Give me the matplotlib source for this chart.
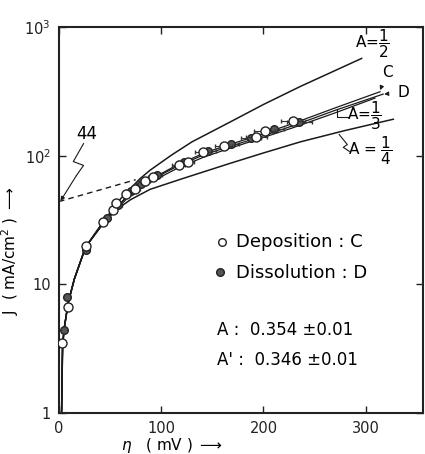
import matplotlib.pyplot as plt
import matplotlib.ticker as ticker

# valores (eta em mV, J em mA/cm2)
dep_eta = [3.2, 9.1, 26.4, 43, 53, 56, 66, 74, 84, 92, 117, 126, 141, 161, 193, 201, 229]
dep_J = [3.5, 6.7, 20, 30.5, 37.5, 43, 50, 55, 63, 68, 84, 89, 106, 118, 140, 156, 186]
dep_err = [0, 0, 3, 3, 3, 4, 4, 5, 5, 5, 6, 6, 8, 8, 10, 10, 12]

dis_eta = [4.9, 7.5, 26, 47, 58, 70, 80, 96, 122, 146, 168, 188, 210, 235]
dis_J = [4.4, 8.0, 18.5, 33, 41, 53, 60, 71, 89, 108, 124, 136, 160, 184]
dis_err = [0, 0, 3, 3, 4, 4, 5, 5, 6, 8, 8, 10, 10, 12]

# curvas ajustadas C e D
c_eta = [2.5, 3.5, 5, 9, 15, 26, 43, 53, 66, 84, 116, 141, 161, 193, 229, 270, 314]
c_J = [1.0, 3.3, 4.5, 7.2, 11, 19.5, 30, 37, 48, 62, 85, 104, 118, 142, 178, 235, 314]
d_eta = [2.5, 3.5, 5, 9, 15, 26, 43, 53, 66, 84, 116, 141, 161, 193, 229, 270, 317]
d_J = [1.0, 3.3, 4.5, 7.2, 11, 19.5, 30, 37, 47.5, 61, 83, 101, 114, 137, 171, 225, 301]

# curvas teoricas A = 1/2, 1/3, 1/4
a2_eta = [2.5, 3.5, 5, 9, 15, 26, 43, 60, 79, 89, 110, 130, 167, 200, 236, 296]
a2_J = [1.0, 3.3, 4.5, 7.2, 11, 19.5, 30.5, 46, 66, 77, 101, 128, 182, 250, 345, 570]
a3_eta = [2.5, 3.5, 5, 9, 15, 26, 43, 53, 66, 84, 116, 141, 161, 193, 229, 270, 309]
a3_J = [1.0, 3.3, 4.5, 7.2, 11, 19.5, 29.5, 36, 46, 59, 80, 97, 110, 133, 165, 215, 280]
a4_eta = [2.5, 3.5, 5, 9, 15, 26, 40, 48, 60, 70, 89, 120, 167, 200, 236, 280, 327]
a4_J = [1.0, 3.3, 4.5, 7.2, 11, 19.5, 27.5, 33, 40, 45.5, 54.7, 66, 87, 105, 128, 157, 192]

# reta tracejada (extrapolacao ate 44)
dash_eta = [0, 75]
dash_J = [44, 65]

fig = plt.figure(figsize=(4.25, 4.54), dpi=100)
ax = fig.add_axes([59 / 425, 41 / 454, 364 / 425, 386 / 454])

lc = '#1a1a1a'
ax.plot(a2_eta, a2_J, color=lc, lw=1.1)
ax.plot(a3_eta, a3_J, color=lc, lw=0.9)
ax.plot(a4_eta, a4_J, color=lc, lw=1.1)
ax.plot(c_eta, c_J, color=lc, lw=0.9)
ax.plot(d_eta, d_J, color=lc, lw=0.9)
ax.plot(dash_eta, dash_J, color=lc, lw=1.0, ls=(0, (4, 3)))

ax.errorbar(dis_eta, dis_J, xerr=dis_err, fmt='o', ms=5.5, mfc='#555555', mec='#222222',
            ecolor='#333333', elinewidth=0.8, capsize=1.5, zorder=3)
ax.errorbar(dep_eta, dep_J, xerr=dep_err, fmt='o', ms=6.5, mfc='white', mec='#222222',
            ecolor='#333333', elinewidth=0.8, capsize=1.5, zorder=4)

ax.set_yscale('log')
ax.set_xlim(0, 356)
ax.set_ylim(1, 1000)
ax.xaxis.set_major_locator(ticker.FixedLocator([0, 100, 200, 300]))
ax.yaxis.set_major_locator(ticker.FixedLocator([1, 10, 100, 1000]))
ax.yaxis.set_minor_locator(ticker.NullLocator())
ax.yaxis.set_major_formatter(ticker.FixedFormatter(['1', '10', r'10$^2$', r'10$^3$']))
ax.tick_params(direction='in', length=5, width=1, top=True, right=True, labelsize=10.5,
               colors='#222222', pad=6)
for s in ax.spines.values():
    s.set_linewidth(1.5)
    s.set_color('#222222')

ax.set_xlabel(r'$\eta$   ( mV ) $\longrightarrow$', fontsize=11, labelpad=0, x=0.31)
ax.set_ylabel(r'J  ( mA/cm$^2$ ) $\longrightarrow$', fontsize=11, labelpad=2, y=0.42)

# rotulos das curvas
ax.text(307, 740, r'A=$\dfrac{1}{2}$', fontsize=11, ha='center', va='center')
ax.annotate('C', xy=(314, 323), xytext=(321, 440), fontsize=11, ha='center', va='center',
            arrowprops=dict(arrowstyle='-|>', lw=0.8, color=lc, shrinkA=4, shrinkB=0, mutation_scale=6))
ax.annotate('D', xy=(318, 301), xytext=(337, 310), fontsize=11, ha='center', va='center',
            arrowprops=dict(arrowstyle='-|>', lw=0.8, color=lc, shrinkA=5, shrinkB=0, mutation_scale=6))
ax.text(299, 205, r'A=$\dfrac{1}{3}$', fontsize=11, ha='center', va='center')
ax.plot([283, 272, 272], [200, 200, 232], color=lc, lw=0.8)
ax.text(304, 110, r'A = $\dfrac{1}{4}$', fontsize=11, ha='center', va='center')
ax.plot([284, 278, 282, 274], [108, 116, 122, 146], color=lc, lw=0.8)

# 44
ax.text(27, 148, '44', fontsize=12, ha='center', va='center')
ax.annotate('', xy=(1.5, 44.5), xytext=(17, 70),
            arrowprops=dict(arrowstyle='-|>', lw=0.8, color=lc, shrinkA=0, shrinkB=0, mutation_scale=6))
ax.plot([24, 14, 24, 17], [124, 90, 84, 70], color=lc, lw=0.8)

# legenda
ax.plot([0.448], [0.444], transform=ax.transAxes, marker='o', ms=5.5, mfc='white', mec='#222222', clip_on=False)
ax.plot([0.443], [0.365], transform=ax.transAxes, marker='o', ms=5.5, mfc='#555555', mec='#222222', clip_on=False)
ax.text(0.487, 0.444, 'Deposition : C', transform=ax.transAxes, fontsize=13, va='center')
ax.text(0.487, 0.362, 'Dissolution : D', transform=ax.transAxes, fontsize=13, va='center')
ax.text(0.434, 0.215, 'A :  0.354 ±0.01', transform=ax.transAxes, fontsize=12, va='center')
ax.text(0.434, 0.137, "A' :  0.346 ±0.01", transform=ax.transAxes, fontsize=12, va='center')

plt.savefig('out.png', dpi=100)
